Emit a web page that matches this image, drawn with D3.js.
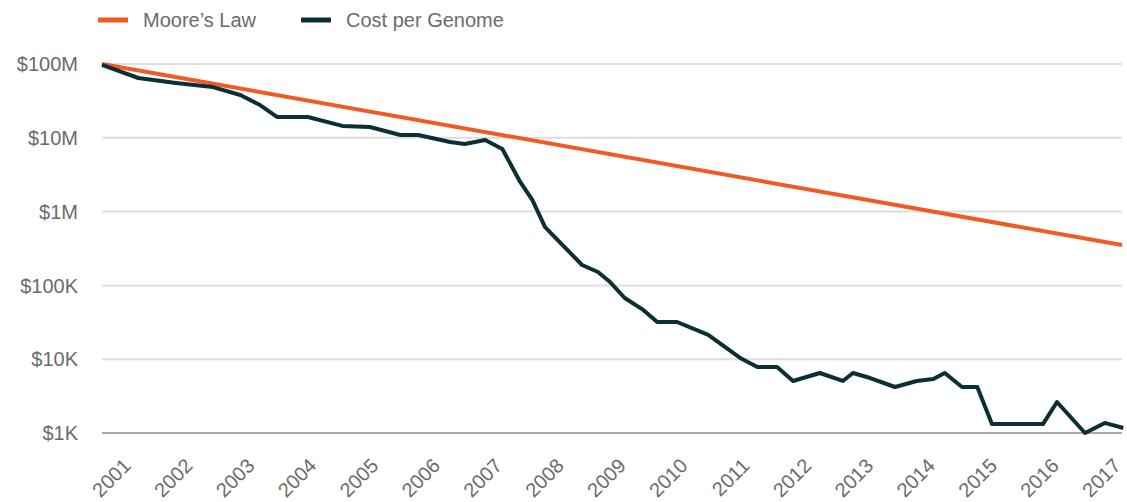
<!DOCTYPE html>
<html>
<head>
<meta charset="utf-8">
<script src="https://cdn.jsdelivr.net/npm/d3@7"></script>
<style>
  html, body { margin: 0; padding: 0; background: #fff; }
  svg { display: block; }
  text { font-family: "Liberation Sans", Arial, sans-serif; fill: #6b6b6b; }
</style>
</head>
<body>
<svg id="chart" width="1127" height="502"></svg>
<script>
// ---- Data ----
const yearTicks = [2001, 2002, 2003, 2004, 2005, 2006, 2007, 2008, 2009, 2010, 2011, 2012, 2013, 2014, 2015, 2016, 2017];
const costTicks = [1e8, 1e7, 1e6, 1e5, 1e4, 1e3];
const costTickLabels = ["$100M", "$10M", "$1M", "$100K", "$10K", "$1K"];

const seriesNames = ["Moore\u2019s Law", "Cost per Genome"];

const mooreYears = [2001, 2017];
const mooreValues = [100e6, 352e3];

const genomeYears = [2001.00, 2001.57, 2002.16, 2002.74, 2003.17, 2003.48, 2003.75, 2004.23, 2004.77, 2005.20,
  2005.68, 2005.96, 2006.46, 2006.69, 2007.01, 2007.28, 2007.56, 2007.75, 2007.95, 2008.53,
  2008.78, 2008.97, 2009.20, 2009.49, 2009.71, 2010.02, 2010.51, 2011.01, 2011.28, 2011.59,
  2011.84, 2012.26, 2012.62, 2012.78, 2013.05, 2013.44, 2013.78, 2014.04, 2014.22, 2014.49,
  2014.73, 2014.96, 2015.76, 2015.98, 2016.42, 2016.73, 2017.02];
const genomeValues = [97e6, 64.6e6, 55.3e6, 48.7e6, 38.0e6, 27.8e6, 19.1e6, 19.1e6, 14.5e6, 14.0e6,
  10.9e6, 10.9e6, 8.77e6, 8.24e6, 9.33e6, 7.05e6, 2.52e6, 1.44e6, 618e3, 189e3,
  152e3, 111e3, 67.5e3, 46.5e3, 31.9e3, 31.9e3, 21.3e3, 10.4e3, 7.83e3, 7.83e3,
  5.07e3, 6.50e3, 5.07e3, 6.50e3, 5.56e3, 4.20e3, 5.07e3, 5.40e3, 6.50e3, 4.20e3,
  4.20e3, 1.32e3, 1.32e3, 2.63e3, 1.0e3, 1.37e3, 1.17e3];

// ---- Layout ----
const W = 1127, H = 502;
const plot = { left: 102, right: 1122, top: 64, bottom: 433 };
const colors = { moore: "#f15a24", genome: "#0c2f34", grid: "#dedede", base: "#a9a9a9" };

const svg = d3.select("#chart");

const x = d3.scaleLinear().domain([2001, 2017]).range([plot.left, plot.right]);
const y = d3.scaleLog().domain([1e3, 1e8]).range([plot.bottom, plot.top]);
// tick labels sit on their own slightly tighter spacing
const xLabel = d3.scaleLinear().domain([2001, 2017]).range([132, 1122]);

// gridlines
svg.append("g").selectAll("line")
  .data(costTicks)
  .join("line")
  .attr("x1", plot.left).attr("x2", plot.right)
  .attr("y1", d => y(d)).attr("y2", d => y(d))
  .attr("stroke", d => d === 1e3 ? colors.base : colors.grid)
  .attr("stroke-width", 2);

// y labels
svg.append("g").selectAll("text")
  .data(costTicks)
  .join("text")
  .attr("x", 78)
  .attr("y", d => y(d))
  .attr("dy", "0.36em")
  .attr("text-anchor", "end")
  .attr("font-size", 20)
  .text((d, i) => costTickLabels[i]);

// x labels
svg.append("g").selectAll("text")
  .data(yearTicks)
  .join("text")
  .attr("text-anchor", "end")
  .attr("font-size", 20)
  .attr("transform", d => `translate(${xLabel(d)},467) rotate(-45)`)
  .text(d => d);

// lines
const line = d3.line().x(d => x(d[0])).y(d => y(d[1]));

svg.append("path")
  .datum(mooreYears.map((yr, i) => [yr, mooreValues[i]]))
  .attr("d", line)
  .attr("fill", "none")
  .attr("stroke", colors.moore)
  .attr("stroke-width", 4);

svg.append("path")
  .datum(genomeYears.map((yr, i) => [yr, genomeValues[i]]))
  .attr("d", line)
  .attr("fill", "none")
  .attr("stroke", colors.genome)
  .attr("stroke-width", 4)
  .attr("stroke-linejoin", "round");

// legend
const legend = svg.append("g");
const legendItems = [
  { name: seriesNames[0], color: colors.moore, x: 98 },
  { name: seriesNames[1], color: colors.genome, x: 301 }
];
const li = legend.selectAll("g").data(legendItems).join("g")
  .attr("transform", d => `translate(${d.x},20)`);
li.append("rect").attr("x", 0).attr("y", -2.5).attr("width", 30).attr("height", 5).attr("fill", d => d.color);
li.append("text").attr("x", 45).attr("y", 0).attr("dy", "0.36em").attr("font-size", 20).text(d => d.name);
</script>
</body>
</html>
